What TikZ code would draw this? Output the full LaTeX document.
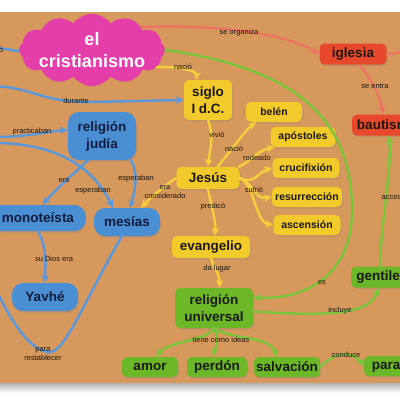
\documentclass[tikz,border=0pt]{standalone}
\usepackage{fontspec}
\setmainfont{Liberation Sans}
\usetikzlibrary{arrows.meta,shapes.symbols,shadows}

\definecolor{fondo}{RGB}{214,152,92}
\definecolor{rosa}{RGB}{228,62,170}
\definecolor{amarillo}{RGB}{242,202,44}
\definecolor{azul}{RGB}{74,142,212}
\definecolor{verde}{RGB}{108,184,40}
\definecolor{rojo}{RGB}{232,72,44}
\definecolor{lineaazul}{RGB}{88,152,222}
\definecolor{lineaamarilla}{RGB}{246,208,60}
\definecolor{lineaverde}{RGB}{122,198,58}
\definecolor{linearoja}{RGB}{240,112,100}
\definecolor{tinta}{RGB}{28,24,16}
\definecolor{tintaazul}{RGB}{16,28,60}

\tikzset{
  concepto/.style={font=\fontsize{13.5}{17}\selectfont\bfseries, text=tinta, align=center,
    inner sep=0pt, rounded corners=5pt,
    drop shadow={opacity=0.3, shadow xshift=1pt, shadow yshift=-1.5pt}},
  nodoamarillo/.style={concepto, fill=amarillo},
  nodochico/.style={nodoamarillo, font=\fontsize{10.5}{13}\selectfont\bfseries},
  nodoazul/.style={concepto, fill=azul, text=tintaazul, rounded corners=11pt},
  nodoverde/.style={concepto, fill=verde},
  nodorojo/.style={concepto, fill=rojo},
  etiqueta/.style={font=\fontsize{7.5}{9}\selectfont, text=tinta, align=center, inner sep=0.5pt},
  punta/.style={-{Stealth[length=8pt,width=7.5pt]}},
  lazul/.style={draw=lineaazul, line width=2.4pt, line cap=round},
  fazul/.style={lazul, punta},
  famarilla/.style={draw=lineaamarilla, line width=2.4pt, line cap=round, punta},
  lroja/.style={draw=linearoja, line width=2pt, line cap=round},
  froja/.style={lroja, punta},
  fverde/.style={draw=lineaverde, line width=2.4pt, line cap=round, punta}
}

\begin{document}
\begin{tikzpicture}[x=1pt,y=-1pt]
  \useasboundingbox (0,0) rectangle (400,400);
  \clip (0,0) rectangle (400,400);
  % fondo
  \fill[white] (0,0) rectangle (400,400);
  \shade[top color=black!30, bottom color=white] (0,383) rectangle (400,393);
  \fill[fondo] (0,12) rectangle (400,383);

  % idea central
  \node[cloud, cloud puffs=12, cloud puff arc=110, aspect=2.1, inner xsep=-10pt, inner ysep=-9pt,
    minimum width=146pt, minimum height=70pt, fill=rosa, text=white, align=center,
    font=\fontsize{18}{22}\selectfont\bfseries] (cristi) at (92,50) {el\\cristianismo};

  % conceptos azules
  \node[nodoazul, minimum width=68pt, minimum height=48pt] (judia) at (102,136) {religión\\judía};
  \node[nodoazul, minimum width=95pt, minimum height=26pt] (monoteista) at (38,218) {monoteísta};
  \node[nodoazul, minimum width=66pt, minimum height=28pt] (mesias) at (127,222) {mesías};
  \node[nodoazul, minimum width=66pt, minimum height=28pt] (yavhe) at (45,297) {Yavhé};

  % conceptos amarillos
  \node[nodoamarillo, minimum width=48pt, minimum height=40pt] (siglo) at (208,100) {siglo\\I d.C.};
  \node[nodochico, minimum width=56pt, minimum height=20pt] (belen) at (274,112) {belén};
  \node[nodochico, minimum width=65pt, minimum height=20pt] (apostoles) at (303,137) {apóstoles};
  \node[nodochico, minimum width=67pt, minimum height=20pt] (crucifixion) at (306,168) {crucifixión};
  \node[nodochico, minimum width=70pt, minimum height=20pt] (resurreccion) at (307,197) {resurrección};
  \node[nodochico, minimum width=67pt, minimum height=20pt] (ascension) at (307,225) {ascensión};
  \node[nodoamarillo, minimum width=63pt, minimum height=22pt] (jesus) at (208,178) {Jesús};
  \node[nodoamarillo, minimum width=78pt, minimum height=22pt] (evangelio) at (211,247) {evangelio};

  % conceptos rojos
  \node[nodorojo, minimum width=67pt, minimum height=21pt] (iglesia) at (353,54) {iglesia};
  \node[nodorojo, minimum width=70pt, minimum height=21pt] (bautismo) at (387,125) {bautismo};

  % conceptos verdes
  \node[nodoverde, minimum width=78pt, minimum height=40pt] (universal) at (214,308) {religión\\universal};
  \node[nodoverde, minimum width=62pt, minimum height=21pt] (gentiles) at (382,277) {gentiles};
  \node[nodoverde, minimum width=56pt, minimum height=20pt] (amor) at (150,367) {amor};
  \node[nodoverde, minimum width=60pt, minimum height=20pt] (perdon) at (217,367) {perdón};
  \node[nodoverde, minimum width=66pt, minimum height=20pt] (salvacion) at (287,367) {salvación};
  \node[nodoverde, minimum width=64pt, minimum height=20pt] (paraiso) at (396,366) {paraíso};

  % extremos fuera del cuadro
  \coordinate (izq1) at (-6,48);
  \coordinate (izq2) at (-6,86);
  \coordinate (izq3) at (-6,137);
  \coordinate (izq4) at (-6,143);
  \coordinate (izq5) at (-6,285);
  \coordinate (der1) at (410,47);

  % enlaces azules
  \draw[lazul] (izq1) .. controls (10,48) and (18,53) .. (cristi.west);
  \node[etiqueta, anchor=east] (lo) at (4,50) {ó};
  \draw[fazul] (izq2) .. controls (35,88) and (40,102) .. (90,102) -- (siglo.west);
  \node[etiqueta] (ldurante) at (76,101) {durante};
  \draw[fazul] (izq3) .. controls (30,137) and (50,131) .. (judia.170);
  \node[etiqueta] (lpracticaban) at (32,132) {practicaban};
  \draw[fazul] (izq4) .. controls (60,143) and (95,170) .. (mesias.135);
  \node[etiqueta] (lesperaban1) at (93,191) {esperaban};
  \draw[fazul] (judia.240) .. controls (72,175) and (55,190) .. (monoteista.70);
  \node[etiqueta] (lera) at (64,181) {era};
  \draw[fazul] (judia.320) .. controls (138,170) and (136,190) .. (mesias.80);
  \node[etiqueta] (lesperaban2) at (136,179) {esperaban};
  \draw[fazul] (monoteista.south) .. controls (48,250) and (45,265) .. (yavhe.north);
  \node[etiqueta] (lsudios) at (54,259) {su Dios era};
  \draw[lazul] (mesias.250) .. controls (85,300) and (65,352) .. (50,352)
    .. controls (30,352) and (10,320) .. (izq5);
  \node[etiqueta] (lpara) at (43,354) {para\\restablecer};

  % enlaces amarillos
  \draw[famarilla] (cristi.345) .. controls (185,66) and (197,72) .. (siglo.120);
  \node[etiqueta] (lnacio1) at (183,67) {nació};
  \draw[famarilla] (siglo.south) .. controls (214,135) and (210,150) .. (jesus.north);
  \node[etiqueta] (lvivio) at (217,135) {vivió};
  \draw[famarilla] (jesus.50) .. controls (232,150) and (245,130) .. (belen.210);
  \node[etiqueta] (lnacio2) at (234,149) {nació};
  \draw[famarilla] (jesus.20) .. controls (250,162) and (258,150) .. (apostoles.200);
  \node[etiqueta] (lrodeado) at (257,158) {rodeado};
  \draw[famarilla] (jesus.east) .. controls (255,185) and (258,172) .. (crucifixion.west);
  \draw[famarilla] (jesus.east) .. controls (255,185) and (255,200) .. (resurreccion.west);
  \draw[famarilla] (jesus.east) .. controls (255,185) and (255,222) .. (ascension.west);
  \node[etiqueta] (lsufrio) at (254,190) {sufrió};
  \draw[famarilla] (jesus.south) .. controls (211,205) and (216,220) .. (evangelio.70);
  \node[etiqueta] (lpredico) at (213,207) {predicó};
  \draw[famarilla] (jesus.west) .. controls (165,185) and (150,198) .. (mesias.45);
  \node[etiqueta] (lconsiderado) at (165,192) {era\\considerado};
  \draw[famarilla] (evangelio.south) .. controls (214,268) and (220,275) .. (universal.75);
  \node[etiqueta] (llugar) at (217,269) {da lugar};

  % enlaces rojos
  \draw[froja] (cristi.25) .. controls (230,24) and (290,36) .. (iglesia.west);
  \node[etiqueta] (lorganiza) at (239,33) {se organiza};
  \draw[froja] (iglesia.300) .. controls (372,80) and (380,95) .. (bautismo.110);
  \node[etiqueta] (lentra) at (375,86) {se entra};
  \draw[lroja] (iglesia.east) .. controls (395,54) .. (der1);

  % enlaces verdes
  \draw[fverde] (cristi.east) .. controls (310,70) and (352,130) .. (352,210)
    .. controls (352,280) and (300,300) .. (universal.15);
  \node[etiqueta] (les) at (322,283) {es};
  \draw[fverde] (universal.-5) .. controls (310,315) and (370,318) .. (gentiles.250);
  \node[etiqueta] (lincluye) at (340,311) {incluye};
  \draw[fverde] (gentiles.100) .. controls (380,230) and (392,170) .. (bautismo.-80);
  \node[etiqueta, anchor=west] (laccede) at (381,197) {accede};
  \draw[fverde] (universal.south) .. controls (205,342) and (170,340) .. (amor.60);
  \draw[fverde] (universal.south) .. controls (220,342) and (215,348) .. (perdon.110);
  \draw[fverde] (universal.south) .. controls (230,340) and (270,335) .. (salvacion.135);
  \node[etiqueta] (lideas) at (221,340) {tiene como ideas};
  \draw[fverde] (salvacion.east) .. controls (335,352) and (352,350) .. (paraiso.west);
  \node[etiqueta] (lconduce) at (346,355) {conduce};
\end{tikzpicture}
\end{document}
